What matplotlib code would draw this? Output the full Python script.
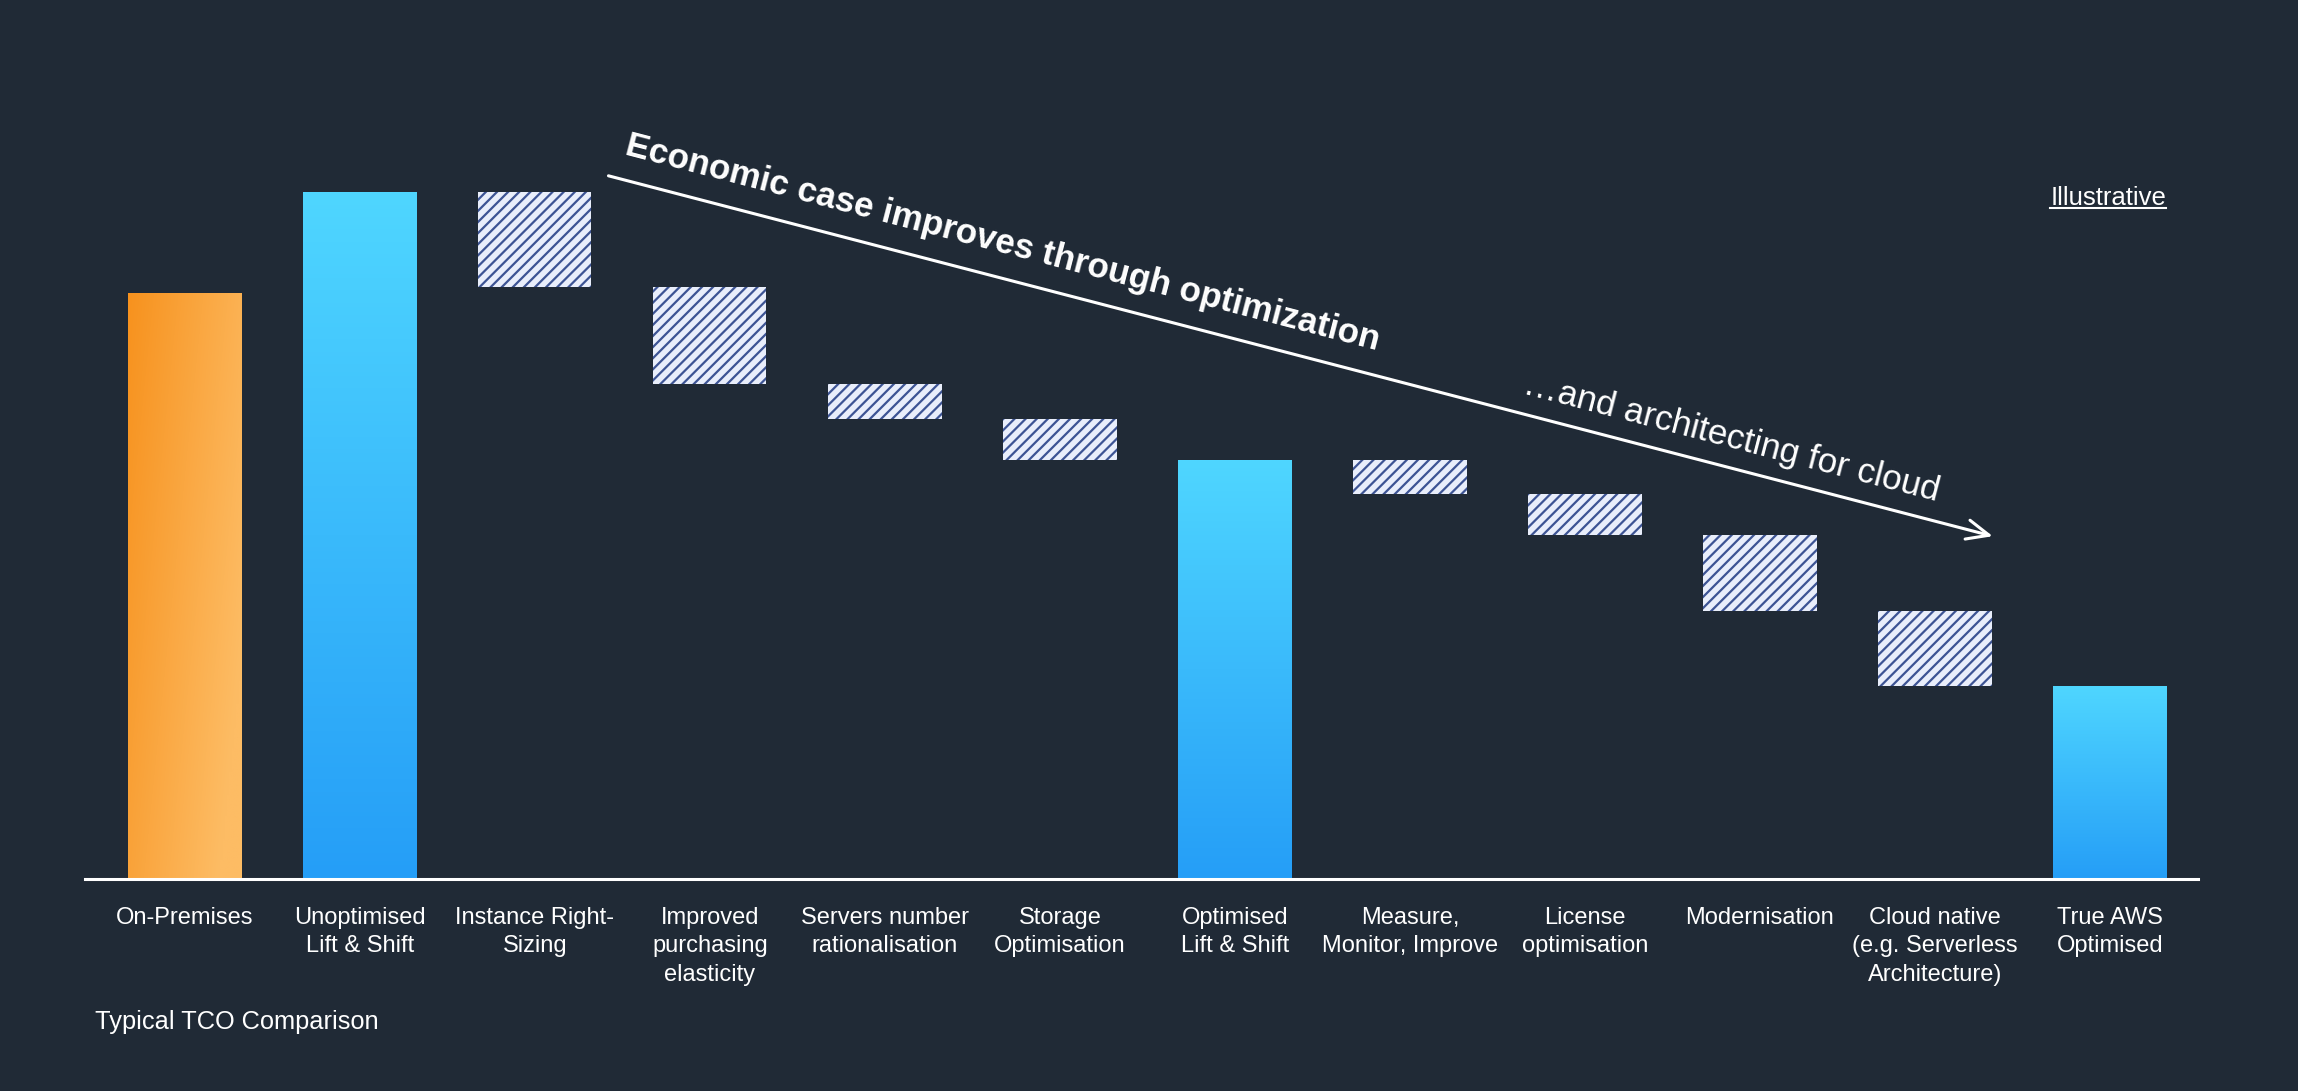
import numpy as np
import matplotlib
matplotlib.use("Agg")
import matplotlib.pyplot as plt
from matplotlib.lines import Line2D

plt.rcParams["font.family"] = ["Liberation Sans", "DejaVu Sans"]

### DATA
categories = [
    "On-Premises",
    "Unoptimised\nLift & Shift",
    "Instance Right-\nSizing",
    "Improved\npurchasing\nelasticity",
    "Servers number\nrationalisation",
    "Storage\nOptimisation",
    "Optimised\nLift & Shift",
    "Measure,\nMonitor, Improve",
    "License\noptimisation",
    "Modernisation",
    "Cloud native\n(e.g. Serverless\nArchitecture)",
    "True AWS\nOptimised",
]
# totals are full bars, steps are savings (negative) drawn as floating blocks
values = [400, 469, -65, -66, -24, -28, 286, -23, -28, -52, -51, 132]
kinds = ["onprem", "total", "step", "step", "step", "step", "total", "step", "step", "step", "step", "total"]

title_text = "Economic case improves through optimization"
sub_text = "\u2026and architecting for cloud"
note_text = "Illustrative"
footer_text = "Typical TCO Comparison"

### STYLE
bg = "#202a36"
hatch_face = "#e9eefb"
hatch_line = "#3d5494"
blue_top = np.array([79, 214, 255]) / 255
blue_bottom = np.array([37, 158, 247]) / 255
orange_dark = np.array([247, 146, 30]) / 255
orange_light = np.array([253, 188, 100]) / 255

plt.rcParams["hatch.linewidth"] = 1.6
plt.rcParams["hatch.color"] = hatch_line

fig = plt.figure(figsize=(22.98, 10.91), dpi=100, facecolor=bg)
ax = fig.add_axes([0.0370, 0.1943, 0.9195, 0.8057])
ax.set_facecolor(bg)

x = np.arange(len(categories))
width = 0.646

level = 0
bottoms, heights = [], []
for v, k in zip(values, kinds):
    if k == "step":
        bottoms.append(level + v)
        heights.append(-v)
        level += v
    else:
        bottoms.append(0)
        heights.append(v)
        level = v

for i, k in enumerate(kinds):
    if k == "step":
        ax.bar(x[i], heights[i], bottom=bottoms[i], width=width, color=hatch_face,
               edgecolor=hatch_line, linewidth=0, hatch="///", zorder=2)
    else:
        bar = ax.bar(x[i], heights[i], bottom=bottoms[i], width=width, color=bg,
                     linewidth=0, zorder=2)[0]
        x0, y0 = bar.get_x(), bar.get_y()
        x1, y1 = x0 + bar.get_width(), y0 + bar.get_height()
        ny, nx = 200, 50
        t = np.linspace(0, 1, ny)[:, None, None]  # 0 = top, 1 = bottom
        if k == "onprem":
            s = np.linspace(0, 1, nx)[None, :, None]
            mix = np.clip(0.75 * s + 0.4 * t, 0, 1)
            img = orange_dark * (1 - mix) + orange_light * mix
        else:
            img = blue_top * (1 - t) + blue_bottom * t
            img = np.repeat(img, nx, axis=1)
        im = ax.imshow(img, extent=(x0, x1, y0, y1), origin="upper",
                       aspect="auto", zorder=3, interpolation="bilinear")
        im.set_clip_path(bar)

ax.set_xlim(-0.571, 11.503)
ax.set_ylim(0, 600)

for side in ["top", "right", "left"]:
    ax.spines[side].set_visible(False)
ax.spines["bottom"].set_color("white")
ax.spines["bottom"].set_linewidth(2.2)
ax.spines["bottom"].set_zorder(5)
ax.set_yticks([])
ax.set_xticks(x, categories)
ax.tick_params(axis="x", length=0, pad=20, labelsize=17, labelcolor="white")
for lbl in ax.get_xticklabels():
    lbl.set_linespacing(1.38)

# arrow
start = (2.42, 480)
end = (10.33, 234)
ax.annotate("", xy=end, xytext=start,
            arrowprops=dict(arrowstyle="->,head_length=0.8,head_width=0.35",
                            color="white", lw=2.2, mutation_scale=20,
                            shrinkA=0, shrinkB=0))

p0 = ax.transData.transform(start)
p1 = ax.transData.transform(end)
angle = np.degrees(np.arctan2(p1[1] - p0[1], p1[0] - p0[0]))

ax.text(4.67, 434, title_text, rotation=angle, rotation_mode="anchor",
        ha="center", va="center", fontsize=25.2, fontweight="bold", color="white")
ax.text(8.84, 301, sub_text, rotation=angle, rotation_mode="anchor",
        ha="center", va="center", fontsize=25.3, color="white")

note = fig.text(0.9426, 0.8185, note_text, ha="right", va="center",
                fontsize=18.5, color="white")
fig.text(0.0413, 0.0637, footer_text, ha="left", va="center",
         fontsize=18.3, color="white")

# underline under "Illustrative"
fig.canvas.draw()
bb = note.get_window_extent().transformed(fig.transFigure.inverted())
fig.add_artist(Line2D([bb.x0, bb.x1], [bb.y0 + 0.002, bb.y0 + 0.002],
                      transform=fig.transFigure, color="white", lw=1.5))

fig.savefig("out.png", dpi=100, facecolor=bg)
